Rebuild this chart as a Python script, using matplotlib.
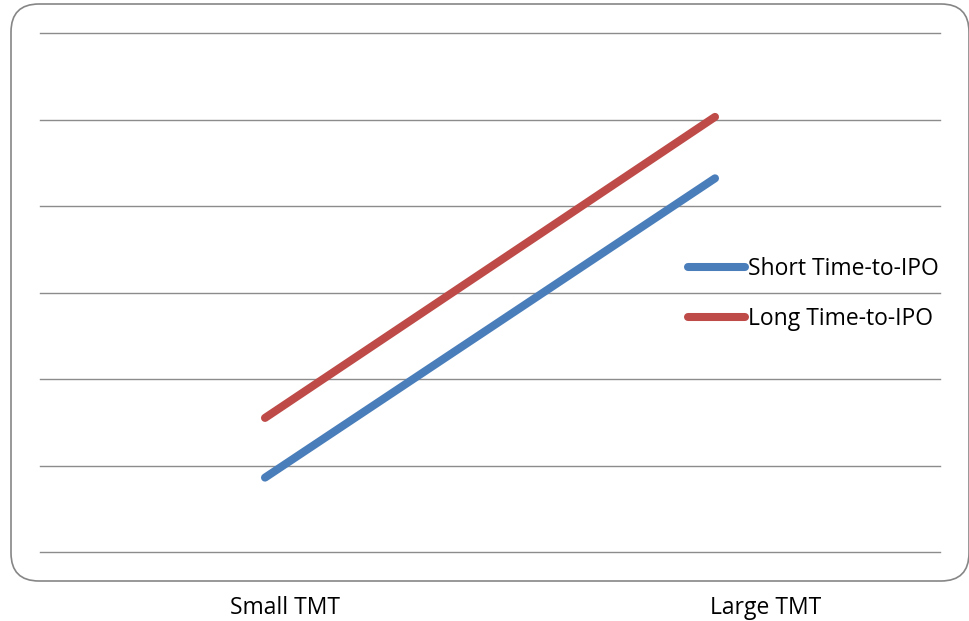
import matplotlib
matplotlib.use("Agg")
import matplotlib.pyplot as plt
import matplotlib.transforms as mtransforms
from matplotlib.patches import FancyBboxPatch

# data
categories = ["Small TMT", "Large TMT"]
short_ipo = [0.86, 4.32]
long_ipo = [1.55, 5.03]
series_names = ["Short Time-to-IPO", "Long Time-to-IPO"]

plt.rcParams['font.family'] = ['Open Sans', 'DejaVu Sans']

fig = plt.figure(figsize=(9.7, 6.21), dpi=100)
ax = fig.add_axes([40/970, 69/621, 900/970, 519/621])

# rounded outer frame
frame = FancyBboxPatch((0.11, 0.40), 9.58, 5.77,
                       boxstyle="round,pad=0,rounding_size=0.28",
                       transform=fig.dpi_scale_trans, fill=False,
                       edgecolor="#868686", linewidth=1.2, zorder=0)
fig.patches.append(frame)

x = list(range(len(categories)))
ax.plot(x, short_ipo, color="#4A7EBB", lw=5.8, solid_capstyle="round", label=series_names[0], zorder=3)
ax.plot(x, long_ipo, color="#BE4B48", lw=5.8, solid_capstyle="round", label=series_names[1], zorder=3)

ax.set_xlim(-0.5, 1.5)
ax.set_ylim(0, 6)
ax.set_yticks(range(0, 7))
ax.yaxis.grid(True, color="#8c8c8c", lw=1.0)
for gl in ax.get_ygridlines():
    gl.set_clip_on(False)
ax.set_axisbelow(True)
ax.tick_params(left=False, bottom=False, labelleft=False)
for s in ax.spines.values():
    s.set_visible(False)

ax.set_xticks(x)
ax.set_xticklabels(categories, fontsize=16.5)
ax.tick_params(axis="x", pad=28)
# labels sit a bit right of the category centres in the reference
for lab, dx in zip(ax.get_xticklabels(), [20, 51]):
    lab.set_transform(lab.get_transform() + mtransforms.ScaledTranslation(dx/100, 0, fig.dpi_scale_trans))

leg = ax.legend(loc="upper left", bbox_to_anchor=(648/900, (552-257)/519),
                frameon=False, fontsize=16.5, handlelength=2.5, handletextpad=0.13,
                labelspacing=1.13, borderaxespad=0, borderpad=0)
for h in leg.get_lines():
    h.set_linewidth(5.8)
    h.set_solid_capstyle("round")

fig.savefig("out.png", dpi=100)
